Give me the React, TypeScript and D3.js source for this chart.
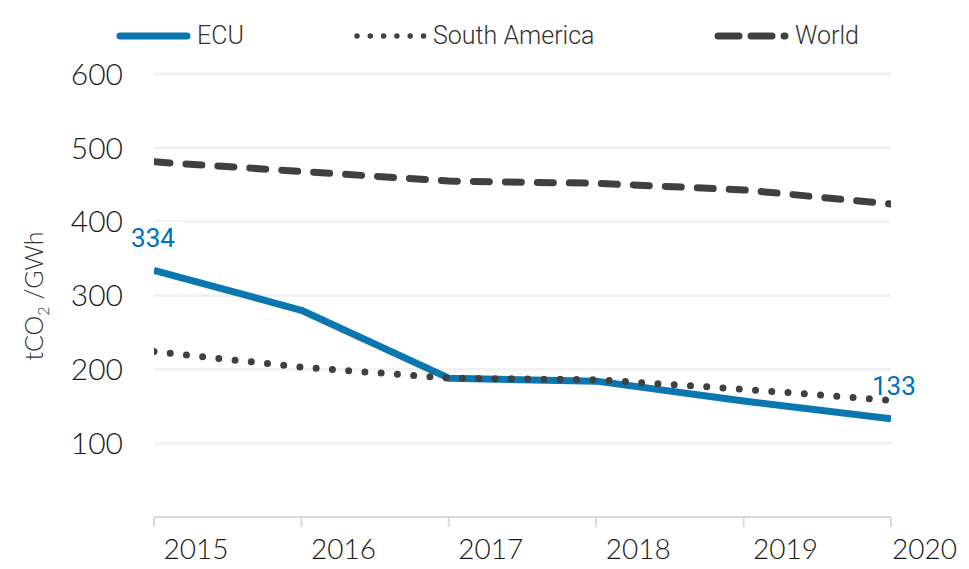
import React from "react";
import * as d3 from "d3";

const years = ["2015", "2016", "2017", "2018", "2019", "2020"];
const ecu = [334, 280, 188, 184, 157, 133];
const southAmerica = [224, 203, 188, 186, 173, 158];
const world = [481, 468, 455, 452, 443, 424];
const yTicks = [100, 200, 300, 400, 500, 600];

const W = 969;
const H = 569;
const left = 154;
const right = 891;
const top = 74;
const bottom = 517;

export default function App() {
  const x = d3.scalePoint<string>().domain(years).range([left, right]);
  const y = d3.scaleLinear().domain([0, 600]).range([bottom, top]);
  const line = d3
    .line<number>()
    .x((_, i) => x(years[i]) as number)
    .y((d) => y(d));

  const labelFont = "Roboto, 'Noto Sans', sans-serif";
  const tickFont = "Lato, 'Open Sans', sans-serif";

  return (
    <svg
      width={W}
      height={H}
      style={{ position: "absolute", left: 0, top: 0, background: "#fff" }}
    >
      <defs>
        <clipPath id="plot">
          <rect x={left} y={0} width={right - left} height={H} />
        </clipPath>
      </defs>
      {/* gridlines */}
      {yTicks.map((t) => (
        <line
          key={t}
          x1={left}
          x2={right}
          y1={y(t)}
          y2={y(t)}
          stroke="#f2f2f2"
          strokeWidth={3}
        />
      ))}
      {/* x axis */}
      <line x1={left} x2={right} y1={y(0)} y2={y(0)} stroke="#d9d9d9" strokeWidth={2} />
      {years.map((yr) => (
        <line
          key={yr}
          x1={x(yr)}
          x2={x(yr)}
          y1={y(0)}
          y2={y(0) + 10}
          stroke="#d9d9d9"
          strokeWidth={2}
        />
      ))}
      {years.map((yr, i) => {
        const last = i === years.length - 1;
        return (
          <text
            key={yr}
            x={last ? (x(yr) as number) + 1 : (x(yr) as number) + 42}
            y={559}
            textAnchor={last ? "start" : "middle"}
            fontFamily={tickFont}
            fontWeight={300}
            fontSize={28}
            fill="#1a1a1a"
          >
            {yr}
          </text>
        );
      })}
      {/* y tick labels */}
      {yTicks.map((t) => (
        <text
          key={t}
          x={123}
          y={y(t)}
          dy="0.36em"
          textAnchor="end"
          fontFamily={tickFont}
          fontWeight={300}
          fontSize={30}
          fill="#1a1a1a"
        >
          {t}
        </text>
      ))}
      {/* y axis title */}
      <text
        transform={`translate(43, 296) rotate(-90)`}
        textAnchor="middle"
        fontFamily={tickFont}
        fontWeight={300}
        fontSize={25}
        fill="#333"
      >
        tCO
        <tspan fontSize={16} dy={6}>2</tspan>
        <tspan dy={-6}> /GWh</tspan>
      </text>

      {/* data label backgrounds */}
      <rect x={130} y={222} width={54} height={30} fill="#fff" />
      <rect x={864} y={372} width={50} height={28} fill="#fff" />

      {/* series */}
      <g clipPath="url(#plot)">
        <path
          d={line(ecu) || ""}
          fill="none"
          stroke="#0a77b0"
          strokeWidth={7}
          strokeLinejoin="round"
        />
        <path
          d={line(southAmerica) || ""}
          fill="none"
          stroke="#404040"
          strokeWidth={7}
          strokeLinecap="round"
          strokeDasharray="0 16.3"
        />
        <path
          d={line(world) || ""}
          fill="none"
          stroke="#404040"
          strokeWidth={7}
          strokeLinecap="round"
          strokeDasharray="16 16"
        />
      </g>

      {/* data labels */}
      <text
        x={153}
        y={247}
        textAnchor="middle"
        fontFamily={labelFont}
        fontSize={26}
        fill="#0070c0"
      >
        {ecu[0]}
      </text>
      <text
        x={872}
        y={395}
        textAnchor="start"
        fontFamily={labelFont}
        fontSize={26}
        fill="#0070c0"
      >
        {ecu[ecu.length - 1]}
      </text>

      {/* legend */}
      <line x1={120} x2={187} y1={36} y2={36} stroke="#0a77b0" strokeWidth={7} strokeLinecap="round" />
      <text x={197} y={44} fontFamily={labelFont} fontWeight={300} fontSize={25} fill="#333">
        ECU
      </text>
      <line
        x1={357}
        x2={424}
        y1={36}
        y2={36}
        stroke="#404040"
        strokeWidth={5.5}
        strokeLinecap="round"
        strokeDasharray="0 13.3"
      />
      <text x={433} y={44} fontFamily={labelFont} fontWeight={300} fontSize={25} fill="#333">
        South America
      </text>
      <line
        x1={718}
        x2={785}
        y1={36}
        y2={36}
        stroke="#404040"
        strokeWidth={7}
        strokeLinecap="round"
        strokeDasharray="21 12"
      />
      <text x={795} y={44} fontFamily={labelFont} fontWeight={300} fontSize={25} fill="#333">
        World
      </text>
    </svg>
  );
}
